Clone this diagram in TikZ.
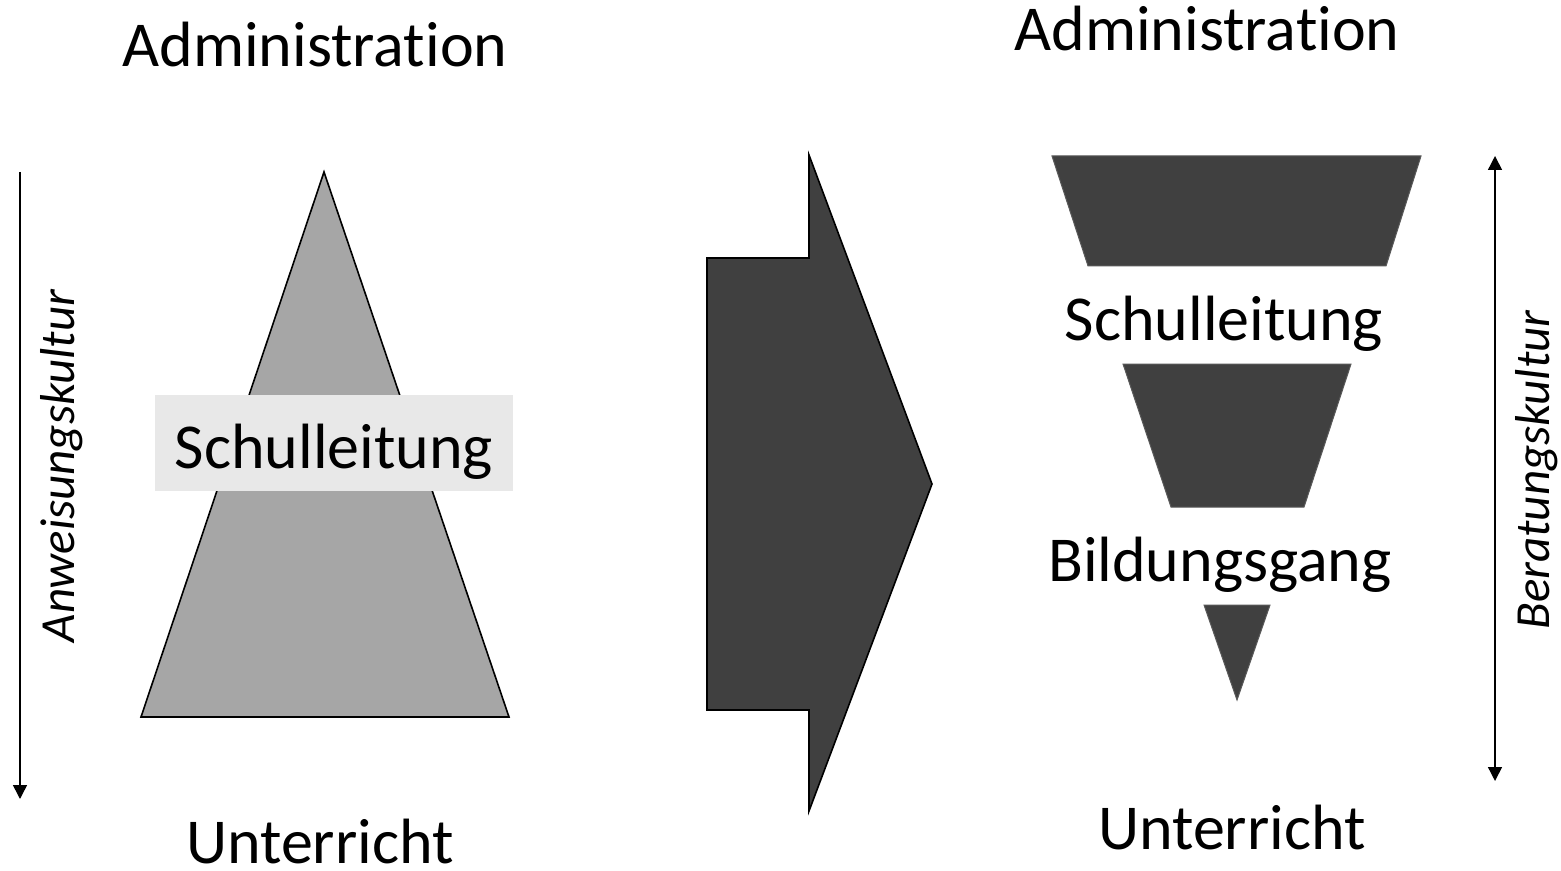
\documentclass[tikz,border=0pt]{standalone}
\usepackage{fontspec}
\setmainfont{Carlito}[Ligatures=NoCommon]
\usetikzlibrary{arrows.meta}
\definecolor{pyramidgrey}{HTML}{A6A6A6}
\definecolor{boxgrey}{HTML}{E8E8E8}
\definecolor{darkfill}{HTML}{404040}
\definecolor{darkedge}{HTML}{595959}

\begin{document}
\begin{tikzpicture}[x=0.5pt,y=-0.5pt,
    biglabel/.style={font=\fontsize{32}{38}\selectfont, inner sep=0pt, anchor=base},
    sidelabel/.style={font=\itshape\fontsize{24.5}{29}\selectfont, inner sep=0pt, rotate=90},
    thinarrow/.style={line width=0.75pt},
    tipend/.style={-{Triangle[width=7pt,length=7pt]}}]
        \useasboundingbox (0,0) rectangle (1561,871);

          % left: pyramid
          \draw[fill=pyramidgrey,line width=0.8pt] (324,172) -- (509,717) -- (141,717) -- cycle;
          \fill[boxgrey] (155,395) rectangle (513,491);
          \node[biglabel] (sl1) at (334,468) {Schulleitung};
          \node[biglabel] (adm1) at (315,67) {Administration};
          \node[biglabel] (unt1) at (320,863) {Unterricht};

          \coordinate (a1) at (20,172);
          \coordinate (a2) at (20,799);
          \draw[thinarrow,tipend] (a1) -- (a2);
          \node[sidelabel] (anw) at (62,466) {Anweisungskultur};

          % middle: block arrow
          \draw[fill=darkfill,line width=0.8pt] (707,258) -- (809,258) -- (809,155) -- (932,484)
            -- (809,811) -- (809,710) -- (707,710) -- cycle;

          % right: inverted pyramid
          \begin{scope}[fill=darkfill,draw=darkedge,line width=0.5pt]
            \filldraw (1052,156) -- (1421,156) -- (1386,266) -- (1088,266) -- cycle;
            \filldraw (1123,364) -- (1351,364) -- (1304,507) -- (1171,507) -- cycle;
            \filldraw (1204,605) -- (1270,605) -- (1237,700) -- cycle;
          \end{scope}
          \node[biglabel] (adm2) at (1207,51) {Administration};
          \node[biglabel] (sl2) at (1224,340) {Schulleitung};
          \node[biglabel] (bg) at (1220,581) {Bildungsgang};
          \node[biglabel] (unt2) at (1232,849) {Unterricht};

          \coordinate (b1) at (1495,156);
          \coordinate (b2) at (1495,781);
          \draw[thinarrow,{Triangle[width=7pt,length=7pt]}-{Triangle[width=7pt,length=7pt]}] (b1) -- (b2);
          \node[sidelabel] (ber) at (1537,470) {Beratungskultur};
        \end{tikzpicture}
\end{document}
